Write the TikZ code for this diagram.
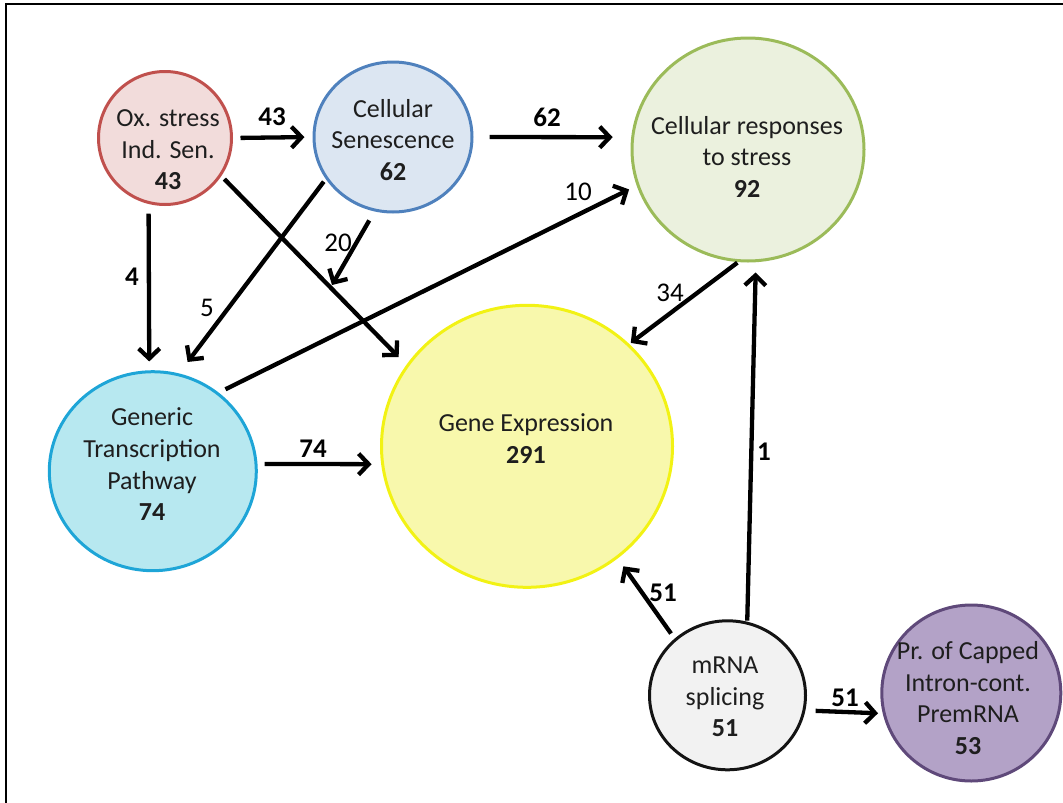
\documentclass[tikz,border=0pt]{standalone}
\usepackage{fontspec}
\setmainfont{Carlito}
\usetikzlibrary{arrows.meta,shapes.geometric}

% fills and outlines of the pathway bubbles
\definecolor{oxfill}{RGB}{242,220,219}
\definecolor{oxline}{RGB}{192,80,77}
\definecolor{senfill}{RGB}{220,230,242}
\definecolor{senline}{RGB}{79,129,189}
\definecolor{respfill}{RGB}{235,241,222}
\definecolor{respline}{RGB}{155,187,89}
\definecolor{genfill}{RGB}{183,232,240}
\definecolor{genline}{RGB}{30,165,215}
\definecolor{genefill}{RGB}{248,248,172}
\definecolor{geneline}{RGB}{242,242,20}
\definecolor{mrnafill}{RGB}{242,242,242}
\definecolor{mrnaline}{RGB}{20,20,20}
\definecolor{prfill}{RGB}{179,162,199}
\definecolor{prline}{RGB}{95,73,122}
\definecolor{txt}{RGB}{30,30,30}

\begin{document}
\begin{tikzpicture}[x=1pt,y=-1pt,
  bubble/.style={ellipse, draw, line width=3pt, inner sep=0pt},
  caption/.style={align=center, inner sep=0pt, text=txt,
                  font=\fontsize{26}{31.5}\selectfont},
  flow/.style={line width=4.3pt, line cap=butt,
               -{Straight Barb[length=10pt,width=21pt]}},
  countb/.style={inner sep=0pt, font=\fontsize{27}{31.5}\selectfont\bfseries},
  countr/.style={inner sep=0pt, font=\fontsize{27}{31.5}\selectfont},
]
\useasboundingbox (0,0) rectangle (1063,803);

% frame
\draw[line width=2pt] (6,803) -- (6,4) -- (1063,4);

% pathway bubbles
\node[bubble, fill=oxfill,   draw=oxline,   minimum width=133pt, minimum height=133pt] (ox)   at (165,138)   {};
\node[bubble, fill=senfill,  draw=senline,  minimum width=158pt, minimum height=150pt] (sen)  at (393,137)   {};
\node[bubble, fill=respfill, draw=respline, minimum width=232pt, minimum height=223pt] (resp) at (748,149.5) {};
\node[bubble, fill=genfill,  draw=genline,  minimum width=207pt, minimum height=199pt] (gen)  at (152.8,471.2) {};
\node[bubble, fill=genefill, draw=geneline, minimum width=291pt, minimum height=282pt] (gene) at (527,446.3) {};
\node[bubble, fill=mrnafill, draw=mrnaline, minimum width=156pt, minimum height=149pt] (mrna) at (727.5,695.3) {};
\node[bubble, fill=prfill,   draw=prline,   minimum width=179pt, minimum height=176pt] (pr)   at (971.3,693) {};

% bubble captions
\node[caption] (ox-t)   at (168,149.8)  {Ox. stress\\Ind. Sen.\\\textbf{43}};
\node[caption] (sen-t)  at (393,139.8)  {Cellular\\Senescence\\\textbf{62}};
\node[caption] (resp-t) at (747,156.8)  {Cellular responses\\to stress\\\textbf{92}};
\node[caption] (gen-t)  at (152,464.3)  {Generic\\Transcription\\Pathway\\\textbf{74}};
\node[caption] (gene-t) at (526,438.8)  {Gene Expression\\\textbf{291}};
\node[caption] (mrna-t) at (725,696.8)  {mRNA\\splicing\\\textbf{51}};
\node[caption] (pr-t)   at (968,698.3)  {Pr. of Capped\\Intron-cont.\\PremRNA\\\textbf{53}};

% free end of the short arrow below Cellular Senescence
\coordinate (end20) at (332,285);

% connectors
\draw[flow, shorten <=7.5pt, shorten >=8pt]  (ox.east)  -- (sen.west);
\draw[flow, shorten <=16pt,  shorten >=18.5pt] (sen.east) -- (resp.174.7);
\draw[flow, shorten <=9.7pt, shorten >=8.8pt] (ox.-104.6) -- (gen.92.5);
\draw[flow, shorten <=4.3pt, shorten >=11pt] (ox.-34.8) -- (gene.146.4);
\draw[flow, shorten <=3.3pt, shorten >=14.3pt] (sen.-148.4) -- (gen.75.3);
\draw[flow, shorten <=10.4pt] (sen.-104) -- (end20);
\draw[flow, shorten <=7.5pt, shorten >=8.5pt] (gen.50.2) -- (resp.-162.1);
\draw[flow, shorten <=1pt,   shorten >=1.8pt] (resp.-95) -- (gene.45.1);
\draw[flow, shorten <=7pt,   shorten >=9.6pt] (gen.4.2) -- (gene.-173.85);
\draw[flow, shorten <=1pt,   shorten >=10.2pt] (mrna.75.5) -- (resp.-86.7);
\draw[flow, shorten <=6.2pt, shorten >=9.7pt] (mrna.133.6) -- (gene.-51.3);
\draw[flow, shorten <=10.2pt, shorten >=4.7pt] (mrna.-11.4) -- (pr.-167.9);

% connector counts
\node[countb] (n43)  at (272,117) {43};
\node[countb] (n62)  at (547,117) {62};
\node[countb] (n4)   at (132,277) {4};
\node[countr] (n5)   at (207,308) {5};
\node[countr] (n20)  at (338,243) {20};
\node[countr] (n10)  at (578,192) {10};
\node[countr] (n34)  at (670,293) {34};
\node[countb] (n74)  at (313,449) {74};
\node[countb] (n1)   at (764,452) {1};
\node[countb] (n51a) at (663,593) {51};
\node[countb] (n51b) at (845,698) {51};
\end{tikzpicture}
\end{document}
